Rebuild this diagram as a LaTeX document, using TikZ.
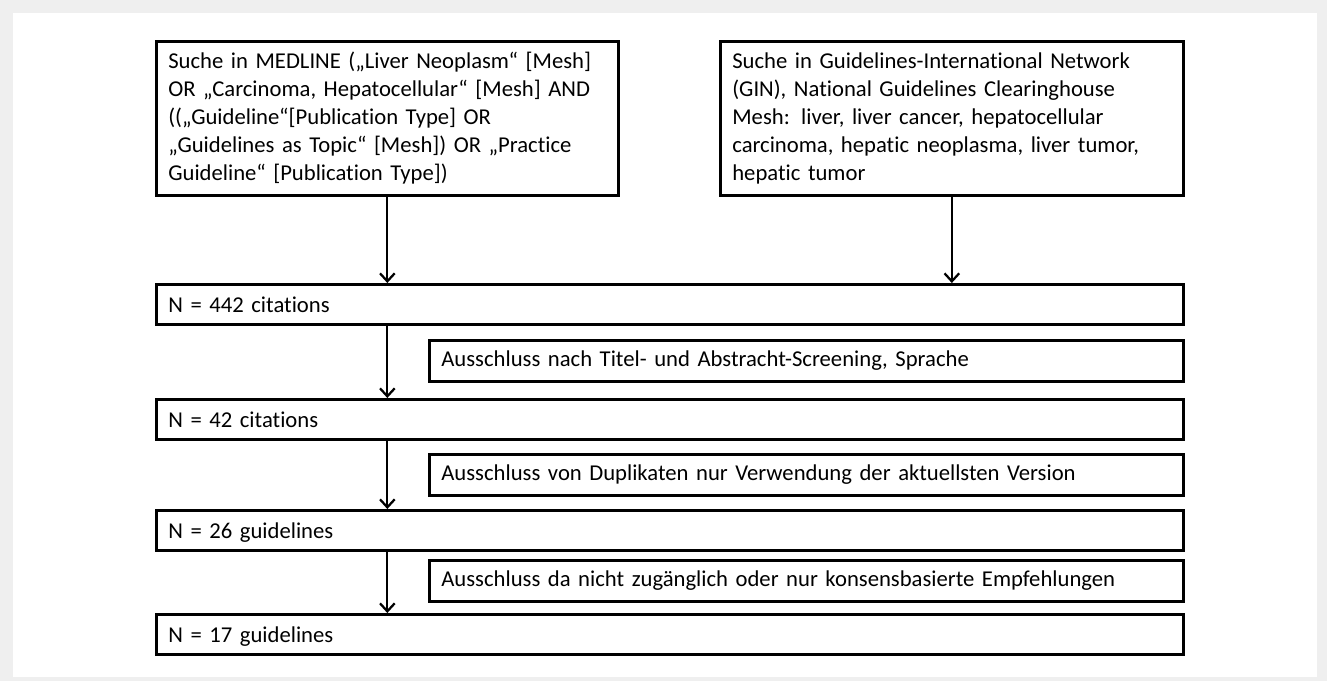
\documentclass[tikz,border=0pt]{standalone}
\usepackage{fontspec}
\setmainfont{Carlito}[Ligatures=NoCommon]
\usetikzlibrary{arrows.meta}
\definecolor{framegray}{RGB}{239,239,239}
\tikzset{
    box/.style={draw, line width=2pt, inner sep=0pt, align=left, anchor=north west,
        font=\fontsize{17}{21}\selectfont},
    wide/.style={box, minimum height=30pt, text width=770.25pt-18pt, text depth=0pt},
    excl/.style={box, minimum height=31pt, text width=565.5pt-18pt},
}
\begin{document}
\begin{tikzpicture}[x=0.75pt, y=-0.75pt, >={Straight Barb[length=6pt,width=11pt]}, line width=1.7pt]
\useasboundingbox (0,0) rectangle (1327,681);
\fill[framegray] (0,0) rectangle (1327,681);
\fill[white] (13,13) rectangle (1317,677);
% search boxes
\node[box, text width=346.5pt-18pt, minimum height=115.5pt, inner xsep=9pt] (med) at (155,40)
    {Suche in MEDLINE („Liver Neoplasm“ [Mesh]\\
     OR „Carcinoma, Hepatocellular“ [Mesh] AND\\
     ((„Guideline“[Publication Type] OR\\
     „Guidelines as Topic“ [Mesh]) OR „Practice\\
     Guideline“ [Publication Type])};
\node[box, text width=347.25pt-18pt, minimum height=115.5pt, inner xsep=9pt] (gin) at (719,40)
    {Suche in Guidelines-International Network\\
     (GIN), National Guidelines Clearinghouse\\
     Mesh: liver, liver cancer, hepatocellular\\
     carcinoma, hepatic neoplasma, liver tumor,\\
     hepatic tumor};
% counts and exclusions
\node[wide, inner xsep=9pt] (n442) at (155,283) {N = 442 citations};
\node[excl, inner xsep=9pt] (ex1) at (428,339) {Ausschluss nach Titel- und Abstracht-Screening, Sprache};
\node[wide, inner xsep=9pt] (n42) at (155,398) {N = 42 citations};
\node[excl, inner xsep=9pt] (ex2) at (428,453) {Ausschluss von Duplikaten nur Verwendung der aktuellsten Version};
\node[wide, inner xsep=9pt] (n26) at (155,509) {N = 26 guidelines};
\node[excl, inner xsep=9pt] (ex3) at (428,559) {Ausschluss da nicht zugänglich oder nur konsensbasierte Empfehlungen};
\node[wide, inner xsep=9pt] (n17) at (155,613) {N = 17 guidelines};

\draw[->](med.south)--(med.south |- n442.north);
\draw[->](gin.south)--(gin.south |- n442.north);
\foreach \a/\b in {n442/n42, n42/n26, n26/n17}
{
    \draw[->](med.south |- \a.south)--(med.south |- \b.north);
}
\end{tikzpicture}
\end{document}
